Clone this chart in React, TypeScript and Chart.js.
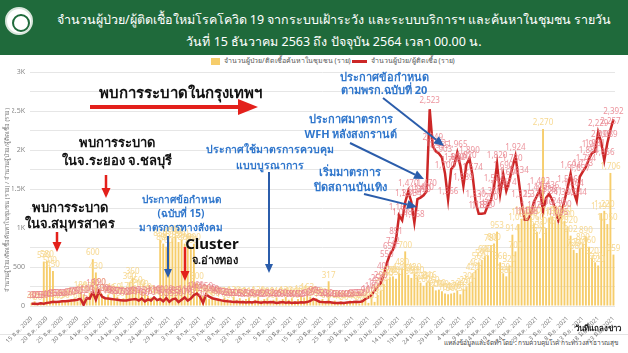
import React, { useEffect, useRef } from "react";
import { Chart, registerables } from "chart.js";

Chart.register(...registerables);

const FONT = "'Noto Sans', 'DejaVu Sans', Tahoma, sans-serif";

const THAI_MONTHS = ["ม.ค.", "ก.พ.", "มี.ค.", "เม.ย.", "พ.ค.", "มิ.ย.", "ก.ค.", "ส.ค.", "ก.ย.", "ต.ค.", "พ.ย.", "ธ.ค."];
const START_DATE = Date.UTC(2020, 11, 15);
const DAY_COUNT = 191;
const categories: string[] = Array.from({ length: DAY_COUNT }, (_, i) => {
  const d = new Date(START_DATE + i * 86400000);
  return `${d.getUTCDate()} ${THAI_MONTHS[d.getUTCMonth()]} ${d.getUTCFullYear()}`;
});

// yellow bars: community active case finding
const communityCases = [
  40, 60, 30, 50, 570, 580, 500, 450, 60, 40,
  70, 50, 80, 90, 100, 60, 180, 150, 120, 170,
  600, 430, 220, 150, 110, 140, 90, 160, 120, 80,
  100, 170, 300, 360, 250, 210, 190, 160, 130, 110,
  120, 90, 850, 800, 760, 820, 870, 900, 820, 850,
  800, 780, 760, 800, 300, 150, 130, 110, 90, 120,
  80, 100, 70, 110, 90, 60, 120, 80, 100, 70,
  90, 110, 60, 80, 120, 70, 90, 100, 60, 80,
  110, 70, 90, 120, 80, 100, 60, 90, 131, 110,
  163, 120, 80, 100, 70, 90, 60, 317, 50, 70,
  40, 60, 30, 50, 70, 40, 60, 30, 60, 80,
  40, 110, 53, 140, 200, 280, 340, 370, 380, 350,
  420, 480, 700, 400, 360, 420, 380, 300, 260, 300,
  316, 250, 200, 210, 190, 160, 150, 160, 170, 200,
  150, 220, 250, 300, 420, 460, 560, 590, 640, 650,
  780, 800, 953, 560, 420, 380, 520, 914, 700, 1050,
  1120, 1150, 1100, 1140, 1060, 950, 870, 2270, 1000, 1130,
  1150, 1100, 1050, 1160, 1090, 1020, 902, 720, 680, 740,
  800, 890, 760, 620, 560, 520, 1191, 1220, 1050, 1706, 659,
];

// red line: surveillance / service system
const surveillanceCases = [
  30, 30, 25, 35, 30, 40, 45, 55, 50, 55,
  60, 60, 65, 70, 75, 80, 95, 15, 100, 95,
  180, 80, 190, 120, 100, 95, 90, 85, 80, 75,
  70, 72, 80, 85, 90, 70, 95, 60, 85, 70,
  110, 75, 90, 60, 100, 55, 85, 95, 50, 80,
  110, 70, 95, 140, 160, 120, 40, 150, 120, 100,
  90, 80, 72, 65, 60, 58, 50, 55, 48, 52,
  45, 50, 46, 54, 48, 42, 50, 45, 52, 48,
  40, 46, 50, 43, 48, 40, 45, 42, 48, 44,
  50, 65, 90, 75, 55, 50, 48, 52, 46, 40,
  38, 43, 40, 45, 48, 50, 55, 50, 60, 90,
  110, 140, 197, 250, 290, 401, 550, 659, 722, 851,
  1161, 1098, 1331, 1470, 1334, 1068, 1370, 1390, 1420, 1470,
  2523, 2049, 1982, 1955, 1903, 1700, 1366, 1754, 1800, 1965,
  1800, 1539, 1820, 1890, 1674, 1330, 1182, 1182, 1190, 1290,
  1360, 1524, 1820, 1435, 1690, 1474, 1604, 1780, 1924, 1634,
  1325, 1109, 1108, 1182, 1330, 1410, 1492, 1216, 1386, 1436,
  1361, 1240, 1095, 1200, 1350, 1516, 1694, 1464, 1344, 1657,
  1723, 1784, 1884, 1961, 1981, 2229, 2099, 1866, 2089, 2257, 2392,
];

const yTickLabels: Record<number, string> = { 0: "0", 500: "500", 1000: "1K", 1500: "1.5K", 2000: "2K", 2500: "2.5K", 3000: "3K" };

const TITLE_1 = "จำนวนผู้ป่วย/ผู้ติดเชื้อใหม่โรคโควิด 19 จากระบบเฝ้าระวัง และระบบบริการฯ และค้นหาในชุมชน รายวัน";
const TITLE_2 = "วันที่ 15 ธันวาคม 2563 ถึง ปัจจุบัน 2564 เวลา 00.00 น.";
const LEGEND_BAR = "จำนวนผู้ป่วย/ติดเชื้อค้นหาในชุมชน (ราย)";
const LEGEND_LINE = "จำนวนผู้ป่วย/ผู้ติดเชื้อ (ราย)";
const Y_TITLE = "จำนวนผู้ป่วย/ติดเชื้อค้นหาในชุมชน (ราย) / จำนวนผู้ป่วย/ผู้ติดเชื้อ (ราย)";
const X_TITLE = "วันที่แถลงข่าว";
const SOURCE = "แหล่งข้อมูลและจัดทำโดย : กรมควบคุมโรค กระทรวงสาธารณสุข";

type Note = { lines: string[]; x: number; y: number; lh: number; font: string; color: string };
type Arrow = { x1: number; y1: number; x2: number; y2: number; color: string; lw: number; hl: number; hw: number };

const RED = "#e3201b";
const BLUE_T = "#2f76cc";
const BLUE_A = "#2b5dab";

const notes: Note[] = [
  { lines: ["พบการระบาดในกรุงเทพฯ"], x: 180, y: 94, lh: 0, font: `bold 15px ${FONT}`, color: "#111" },
  { lines: ["พบการระบาด", "ในจ.ระยอง จ.ชลบุรี"], x: 117, y: 143, lh: 18, font: `bold 13px ${FONT}`, color: "#111" },
  { lines: ["พบการระบาด", "ในจ.สมุทรสาคร"], x: 70, y: 208, lh: 16, font: `bold 13px ${FONT}`, color: "#111" },
  { lines: ["ประกาศข้อกำหนด", "(ฉบับที่ 15)", "มาตรการทางสังคม"], x: 181, y: 200, lh: 14, font: `bold 10px ${FONT}`, color: BLUE_T },
  { lines: ["Cluster"], x: 212, y: 245, lh: 0, font: `bold 15px ${FONT}`, color: "#111" },
  { lines: ["จ.อ่างทอง"], x: 215, y: 261, lh: 0, font: `bold 11px ${FONT}`, color: "#111" },
  { lines: ["ประกาศใช้มาตรการควบคุม", "แบบบูรณาการ"], x: 270, y: 150, lh: 16, font: `bold 10.5px ${FONT}`, color: BLUE_T },
  { lines: ["ประกาศมาตรการ", "WFH หลังสงกรานต์"], x: 351, y: 120, lh: 15, font: `bold 11px ${FONT}`, color: BLUE_T },
  { lines: ["ประกาศข้อกำหนด", "ตามพรก.ฉบับที่ 20"], x: 384, y: 78, lh: 13, font: `bold 11px ${FONT}`, color: BLUE_T },
  { lines: ["เริ่มมาตรการ", "ปิดสถานบันเทิง"], x: 350, y: 173, lh: 15, font: `bold 11px ${FONT}`, color: BLUE_T },
];

const arrows: Arrow[] = [
  { x1: 90, y1: 107, x2: 258, y2: 107, color: RED, lw: 4, hl: 20, hw: 16 },
  { x1: 106, y1: 175, x2: 106, y2: 198, color: RED, lw: 2.5, hl: 10, hw: 9 },
  { x1: 57, y1: 232, x2: 57, y2: 252, color: RED, lw: 2.5, hl: 10, hw: 9 },
  { x1: 185, y1: 247, x2: 185, y2: 281, color: RED, lw: 2.5, hl: 10, hw: 9 },
  { x1: 168, y1: 236, x2: 168, y2: 278, color: BLUE_A, lw: 2, hl: 9, hw: 8 },
  { x1: 269, y1: 172, x2: 269, y2: 273, color: BLUE_A, lw: 2, hl: 9, hw: 8 },
  { x1: 350, y1: 143, x2: 424, y2: 179, color: BLUE_A, lw: 2, hl: 10, hw: 9 },
  { x1: 383, y1: 98, x2: 444, y2: 146, color: BLUE_A, lw: 2, hl: 10, hw: 9 },
  { x1: 364, y1: 194, x2: 417, y2: 207, color: BLUE_A, lw: 2, hl: 10, hw: 9 },
];

function drawArrow(ctx: CanvasRenderingContext2D, a: Arrow) {
  const ang = Math.atan2(a.y2 - a.y1, a.x2 - a.x1);
  const bx = a.x2 - a.hl * Math.cos(ang);
  const by = a.y2 - a.hl * Math.sin(ang);
  ctx.strokeStyle = a.color;
  ctx.lineWidth = a.lw;
  ctx.lineCap = "butt";
  ctx.beginPath();
  ctx.moveTo(a.x1, a.y1);
  ctx.lineTo(bx, by);
  ctx.stroke();
  ctx.fillStyle = a.color;
  ctx.beginPath();
  ctx.moveTo(a.x2, a.y2);
  ctx.lineTo(bx + (a.hw / 2) * Math.sin(ang), by - (a.hw / 2) * Math.cos(ang));
  ctx.lineTo(bx - (a.hw / 2) * Math.sin(ang), by + (a.hw / 2) * Math.cos(ang));
  ctx.closePath();
  ctx.fill();
}

const fmt = (v: number) => v.toLocaleString("en-US");

const overlayPlugin = {
  id: "overlay",
  afterDatasetsDraw(chart: any) {
    const ctx: CanvasRenderingContext2D = chart.ctx;
    ctx.save();
    ctx.textAlign = "center";
    ctx.textBaseline = "bottom";
    ctx.font = `8px ${FONT}`;
    const barMeta = chart.getDatasetMeta(0);
    ctx.fillStyle = "rgba(247, 215, 140, 0.95)";
    barMeta.data.forEach((el: any, i: number) => {
      ctx.fillText(fmt(communityCases[i]), el.x, el.y - 2);
    });
    const lineMeta = chart.getDatasetMeta(1);
    ctx.fillStyle = "rgba(232, 125, 135, 0.82)";
    lineMeta.data.forEach((el: any, i: number) => {
      ctx.fillText(fmt(surveillanceCases[i]), el.x, el.y - 4);
    });

    ctx.textBaseline = "middle";
    notes.forEach((n) => {
      ctx.font = n.font;
      ctx.fillStyle = n.color;
      n.lines.forEach((t, k) => ctx.fillText(t, n.x, n.y + k * n.lh));
    });
    arrows.forEach((a) => drawArrow(ctx, a));

    ctx.save();
    ctx.translate(7, 200);
    ctx.rotate(-Math.PI / 2);
    ctx.font = `6px ${FONT}`;
    ctx.fillStyle = "#777";
    ctx.fillText(Y_TITLE, 0, 0);
    ctx.restore();

    ctx.font = `bold 8px ${FONT}`;
    ctx.fillStyle = "#222";
    ctx.textAlign = "right";
    ctx.fillText(X_TITLE, 621, 329);
    ctx.restore();
  },
};

export default function App() {
  const ref = useRef<HTMLCanvasElement>(null);
  useEffect(() => {
    if (!ref.current) return;
    const chart = new Chart(ref.current, {
      type: "bar",
      data: {
        labels: categories,
        datasets: [
          {
            type: "bar",
            label: LEGEND_BAR,
            data: communityCases,
            backgroundColor: "#f6cd6b",
            barPercentage: 0.62,
            categoryPercentage: 1,
            order: 2,
          },
          {
            type: "line",
            label: LEGEND_LINE,
            data: surveillanceCases,
            borderColor: "#cc2727",
            borderWidth: 2.5,
            pointRadius: 0,
            tension: 0,
            order: 1,
          },
        ],
      } as any,
      options: {
        animation: false,
        responsive: false,
        maintainAspectRatio: false,
        layout: { padding: { top: 72, right: 13, bottom: 0, left: 12 } },
        plugins: { legend: { display: false }, tooltip: { enabled: false } },
        scales: {
          x: {
            grid: { display: false },
            border: { display: false },
            ticks: {
              autoSkip: false,
              maxRotation: 45,
              minRotation: 45,
              padding: 1,
              color: "#777",
              font: { size: 6, family: FONT },
              callback: (_v: any, i: number) => (i % 5 === 0 ? categories[i] : ""),
            },
            afterFit: (s: any) => {
              s.height = 47;
            },
          },
          y: {
            min: 0,
            max: 3000,
            grid: { color: "#e6e6e6", drawTicks: false },
            border: { display: false },
            ticks: {
              stepSize: 250,
              padding: 5,
              color: "#888",
              font: { size: 7, family: FONT },
              callback: (v: any) => (yTickLabels[v] !== undefined ? yTickLabels[v] : ""),
            },
            afterFit: (s: any) => {
              s.width = 18;
            },
          },
        },
      } as any,
      plugins: [overlayPlugin],
    });
    return () => chart.destroy();
  }, []);

  return (
    <div style={{ position: "fixed", left: 0, top: 0, width: 628, height: 353, background: "#fff", overflow: "hidden", fontFamily: FONT }}>
      <div style={{ position: "absolute", left: 0, top: 0, width: 628, height: 55, background: "#1f6a3b" }} />
      <div style={{ position: "absolute", left: 5, top: 7, width: 28, height: 28, borderRadius: "50%", background: "#fff", boxSizing: "border-box", border: "2px solid #d9e6dc" }}>
        <div style={{ position: "absolute", left: 5, top: 5, width: 14, height: 14, borderRadius: "50%", border: "2px solid #1f6a3b" }} />
      </div>
      <div style={{ position: "absolute", left: 40, width: 588, top: 9, textAlign: "center", color: "#fff", fontSize: 12.5, lineHeight: "22px", whiteSpace: "nowrap" }}>
        <div>{TITLE_1}</div>
        <div>{TITLE_2}</div>
      </div>
      <div style={{ position: "absolute", left: 211, top: 58, width: 9, height: 7, background: "#f6cd6b" }} />
      <div style={{ position: "absolute", left: 224, top: 56, fontSize: 7, color: "#555", whiteSpace: "nowrap", lineHeight: "10px" }}>{LEGEND_BAR}</div>
      <div style={{ position: "absolute", left: 352, top: 60, width: 15, height: 3, background: "#cc2727" }} />
      <div style={{ position: "absolute", left: 371, top: 56, fontSize: 7, color: "#555", whiteSpace: "nowrap", lineHeight: "10px" }}>{LEGEND_LINE}</div>
      <div style={{ position: "absolute", left: 0, top: 334, width: 628, height: 1, background: "#e4e4e4" }} />
      <div style={{ position: "absolute", right: 10, top: 338, fontSize: 6.5, color: "#444", whiteSpace: "nowrap", lineHeight: "10px" }}>{SOURCE}</div>
      <canvas ref={ref} width={628} height={353} style={{ position: "absolute", left: 0, top: 0 }} />
    </div>
  );
}
